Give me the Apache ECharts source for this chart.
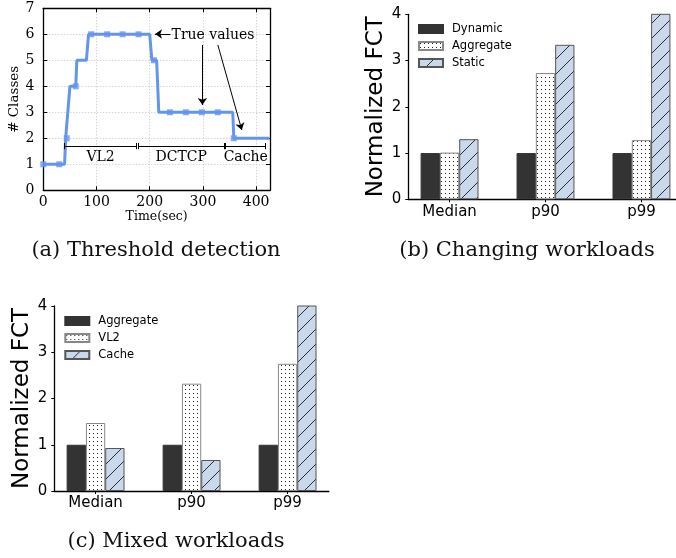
<!DOCTYPE html>
<html><head><meta charset="utf-8">
<script src="https://cdn.jsdelivr.net/npm/echarts@6/dist/echarts.min.js"></script>
<style>
html,body{margin:0;padding:0;background:#fff;width:676px;height:558px;overflow:hidden}
.c{position:absolute;left:0;top:0;width:676px;height:558px}
</style></head><body>
<div id="a" class="c"></div><div id="b" class="c"></div><div id="c" class="c"></div>
<script>
// ---------- Panel (a): Threshold detection ----------
const lineTime    = [0, 30, 40, 42, 44, 50, 61, 63, 81, 85, 200, 204, 213, 217, 356, 358, 425];
const lineClasses = [1, 1, 1, 2, 2, 4, 4, 5, 5, 6, 6, 5, 5, 3, 3, 2, 2];
const markerTime    = [0, 30, 44, 61, 90, 120, 149, 179, 208, 238, 268, 298, 328, 358];
const markerClasses = [1, 1, 2, 4, 6, 6, 6, 6, 5, 3, 3, 3, 3, 2];
const xTicksA = [0, 100, 200, 300, 400];
// annotation arrows (data coords): from -> to
const arrowsA = [[[239, 6.01], [210, 6.01]], [[299, 5.59], [299, 3.28]], [[328, 5.59], [373, 2.32]]];
const trueValuesLabel = ['True values', 241, 5.97];
// workload spans
const spanY = 1.70;
const spans = [['VL2', 39.5, 175.6], ['DCTCP', 178.6, 339.7], ['Cache', 342.8, 418]];
const spanLabelY = 1.28;

// ---------- Panel (b): Changing workloads ----------
const catsB = ['Median', 'p90', 'p99'];
const dynamicB = [1.0, 1.0, 1.0];
const aggregateB = [1.01, 2.73, 1.28];
const staticB = [1.30, 3.34, 4.6];

// ---------- Panel (c): Mixed workloads ----------
const catsC = ['Median', 'p90', 'p99'];
const aggregateC = [1.0, 1.0, 1.0];
const vl2C = [1.47, 2.32, 2.75];
const cacheC = [0.93, 0.67, 4.6];

const serif = 'DejaVu Serif';
const sans = 'DejaVu Sans';

function dotPattern() {
  const c = document.createElement('canvas'); c.width = 4; c.height = 4;
  const g = c.getContext('2d');
  g.fillStyle = '#fff'; g.fillRect(0, 0, 4, 4);
  g.fillStyle = '#222'; g.fillRect(1, 1, 1, 1);
  return c;
}
function hatchPattern() {
  const s = 15;
  const c = document.createElement('canvas'); c.width = s; c.height = s;
  const g = c.getContext('2d');
  g.fillStyle = '#c9d9eb'; g.fillRect(0, 0, s, s);
  g.strokeStyle = '#2a2a2a'; g.lineWidth = 1;
  for (let k = -1; k <= 1; k++) {
    g.beginPath(); g.moveTo(k * s - 1, s + 1); g.lineTo(k * s + s + 1, -1); g.stroke();
  }
  return c;
}
const dots = { image: dotPattern(), repeat: 'repeat' };
const hatch = { image: hatchPattern(), repeat: 'repeat' };

// ---- chart A
const chartA = echarts.init(document.getElementById('a'));
const blackLine = { show: true, onZero: false, lineStyle: { color: '#000', width: 1.3 } };
const markLineData = [];
arrowsA.forEach(a => markLineData.push([{ coord: a[0], symbol: 'none' }, { coord: a[1], symbol: 'arrow' }]));
spans.forEach(s => {
  markLineData.push([{ coord: [s[1], spanY], symbol: 'none' }, { coord: [s[2], spanY], symbol: 'none' }]);
  [s[1], s[2]].forEach(x => markLineData.push([{ coord: [x, spanY - 0.12], symbol: 'none' }, { coord: [x, spanY + 0.12], symbol: 'none' }]));
});
const markPointData = [{ name: trueValuesLabel[0], coord: [trueValuesLabel[1], trueValuesLabel[2]], label: { position: 'right', distance: 0 } }];
spans.forEach(s => markPointData.push({ name: s[0], coord: [(s[1] + s[2]) / 2, spanLabelY], label: { position: 'inside' } }));

chartA.setOption({
  animation: false,
  grid: { left: 43.3, top: 8.3, width: 226.7, height: 182 },
  xAxis: [
    { type: 'value', min: 0, max: 426, interval: 100, position: 'bottom', axisLine: blackLine,
      axisTick: { inside: true, length: 4, lineStyle: { color: '#000' }, customValues: xTicksA },
      axisLabel: { fontFamily: serif, fontSize: 14, color: '#000', margin: 5, customValues: xTicksA },
      splitLine: { show: true, lineStyle: { type: [1, 2], color: '#c4c4c4' } },
      name: 'Time(sec)', nameLocation: 'middle', nameGap: 20, nameTextStyle: { fontFamily: serif, fontSize: 12.5, color: '#000' } },
    { type: 'value', min: 0, max: 426, interval: 100, position: 'top', axisLine: blackLine,
      axisTick: { inside: true, length: 4, lineStyle: { color: '#000' }, customValues: xTicksA }, axisLabel: { show: false }, splitLine: { show: false } }
  ],
  yAxis: [
    { type: 'value', min: 0, max: 7, interval: 1, position: 'left', axisLine: blackLine,
      axisTick: { inside: true, length: 4, lineStyle: { color: '#000' } },
      axisLabel: { fontFamily: serif, fontSize: 14, color: '#000', margin: 9 },
      splitLine: { show: true, lineStyle: { type: [1, 2], color: '#c4c4c4' } },
      name: '# Classes', nameLocation: 'middle', nameGap: 20, nameTextStyle: { fontFamily: serif, fontSize: 13.5, color: '#000' } },
    { type: 'value', min: 0, max: 7, interval: 1, position: 'right', axisLine: blackLine,
      axisTick: { inside: true, length: 4, lineStyle: { color: '#000' } }, axisLabel: { show: false }, splitLine: { show: false } }
  ],
  series: [
    { type: 'line', data: lineTime.map((t, i) => [t, lineClasses[i]]), symbol: 'none', silent: true,
      lineStyle: { color: '#6495ED', width: 3 }, itemStyle: { color: '#6495ED' }, z: 3,
      markLine: { silent: true, symbolSize: 7, label: { show: false }, lineStyle: { color: '#000', width: 1, type: 'solid' }, emphasis: { disabled: true }, data: markLineData, animation: false },
      markPoint: { silent: true, symbol: 'circle', symbolSize: 0, label: { show: true, formatter: '{b}', color: '#000', fontFamily: serif, fontSize: 14 }, data: markPointData, animation: false }
    },
    { type: 'scatter', data: markerTime.map((t, i) => [t, markerClasses[i]]), symbol: 'rect', symbolSize: 6, silent: true,
      itemStyle: { color: '#6495ED' }, z: 4 }
  ],
  graphic: [
    { type: 'text', style: { text: '(a) Threshold detection', x: 156, y: 251, align: 'center', verticalAlign: 'middle', font: '21px "DejaVu Serif"', fill: '#111' } },
    { type: 'text', style: { text: '(c) Mixed workloads', x: 176, y: 542, align: 'center', verticalAlign: 'middle', font: '21px "DejaVu Serif"', fill: '#111' } }
  ]
});

function barPanel(el, cats, series, gridLeft, gridTop, xMax, legendLeft, legendTop, nameGap, caption) {
  const ch = echarts.init(document.getElementById(el));
  const gridW = (xMax + 0.43) * 96;
  ch.setOption({
    animation: false,
    grid: { left: gridLeft, top: gridTop, width: gridW, height: 185 },
    legend: { orient: 'vertical', left: legendLeft, top: legendTop, padding: 0, icon: 'rect', itemWidth: 24, itemHeight: 8, itemGap: 5,
      selectedMode: false, textStyle: { fontFamily: sans, fontSize: 11.5, color: '#000', padding: [0, 0, 0, 4] },
      data: series.map(s => s.name) },
    xAxis: { type: 'value', min: -0.43, max: xMax, axisLine: { show: true, onZero: false, lineStyle: { color: '#000', width: 1.3 } },
      axisTick: { show: true, length: 3, lineStyle: { color: '#000' }, customValues: [0, 1, 2] },
      axisLabel: { fontFamily: sans, fontSize: 15, color: '#000', margin: 5, customValues: [0, 1, 2], formatter: v => cats[Math.round(v)] },
      splitLine: { show: false } },
    yAxis: { type: 'value', min: 0, max: 4, interval: 1, axisLine: { show: true, onZero: false, lineStyle: { color: '#000', width: 1.3 } },
      axisTick: { show: true, length: 3, lineStyle: { color: '#000' } },
      axisLabel: { fontFamily: sans, fontSize: 15, color: '#000', margin: 7 },
      splitLine: { show: false },
      name: 'Normalized FCT', nameLocation: 'middle', nameGap: nameGap, nameTextStyle: { fontFamily: sans, fontSize: 23, color: '#000' } },
    series: series.map(s => ({ type: 'bar', name: s.name, data: s.values.map((v, i) => [i, v]), barWidth: 19.3, barGap: '0%', clip: true, silent: true,
      itemStyle: { color: s.color, borderColor: s.border, borderWidth: 1 } })),
    graphic: caption ? [{ type: 'text', style: { text: caption[0], x: caption[1], y: caption[2], align: 'center', verticalAlign: 'middle', font: '21px "DejaVu Serif"', fill: '#111' } }] : []
  });
  return ch;
}

barPanel('b', catsB, [
  { name: 'Dynamic', values: dynamicB, color: '#333333', border: '#333333' },
  { name: 'Aggregate', values: aggregateB, color: dots, border: '#888' },
  { name: 'Static', values: staticB, color: hatch, border: '#555' }
], 408.3, 14.3, 2.36, 418, 23, 12, ['(b) Changing workloads', 527, 251]);

barPanel('c', catsC, [
  { name: 'Aggregate', values: aggregateC, color: '#333333', border: '#333333' },
  { name: 'VL2', values: vl2C, color: dots, border: '#888' },
  { name: 'Cache', values: cacheC, color: hatch, border: '#555' }
], 54.3, 306, 2.43, 64.3, 315, 17, null);
</script>
</body></html>
